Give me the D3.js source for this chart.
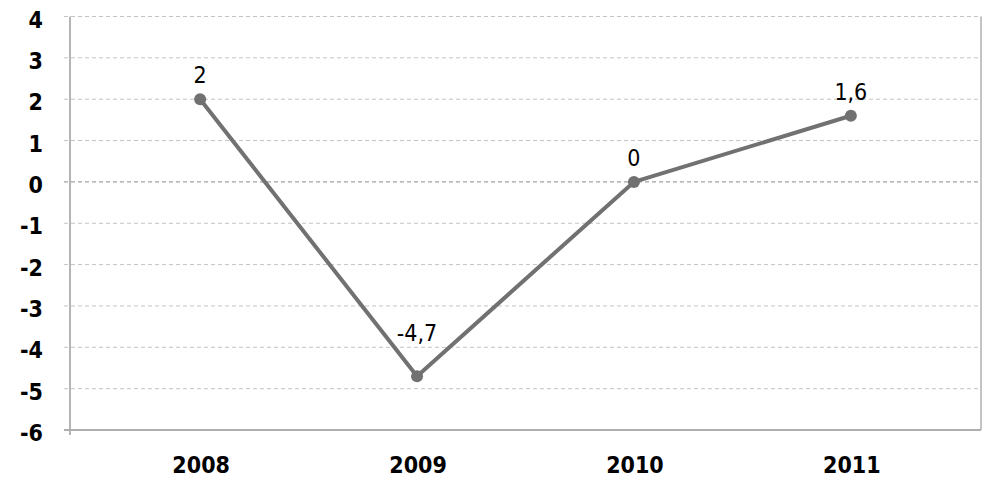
<!DOCTYPE html>
<html>
<head>
<meta charset="utf-8">
<script src="https://cdn.jsdelivr.net/npm/d3@7"></script>
<style>
  body { margin: 0; background: #fff; }
  text { font-family: "DejaVu Sans Condensed", "DejaVu Sans", sans-serif; }
</style>
</head>
<body>
<svg id="chart"></svg>
<script>
// data
const years = ["2008", "2009", "2010", "2011"];
const values = [2, -4.7, 0, 1.6];
const yTicks = [4, 3, 2, 1, 0, -1, -2, -3, -4, -5, -6];

const width = 998;
const height = 502;
const margin = { top: 16.5, right: 17, bottom: 72, left: 70 };

const svg = d3.select("#chart").attr("width", width).attr("height", height);

const x = d3
  .scalePoint()
  .domain(years)
  .range([margin.left, width - margin.right])
  .padding(0.6);

const y = d3
  .scaleLinear()
  .domain([-6, 4])
  .range([height - margin.bottom, margin.top]);

// gridlines
svg.append("g")
  .selectAll("line")
  .data(yTicks.filter((d) => d !== -6))
  .join("line")
  .attr("x1", margin.left - 6)
  .attr("x2", width - margin.right)
  .attr("y1", (d) => y(d))
  .attr("y2", (d) => y(d))
  .attr("stroke", (d) => (d === 0 ? "#8a8a8a" : "#c4c4c4"))
  .attr("stroke-width", 1)
  .attr("stroke-dasharray", "4,3");

// right border
svg.append("line")
  .attr("x1", width - margin.right)
  .attr("x2", width - margin.right)
  .attr("y1", y(4))
  .attr("y2", y(-6))
  .attr("stroke", "#b0b0b0")
  .attr("stroke-width", 1.5);

// y axis line
svg.append("line")
  .attr("x1", margin.left)
  .attr("x2", margin.left)
  .attr("y1", y(4))
  .attr("y2", y(-6) + 5)
  .attr("stroke", "#b4b4b4")
  .attr("stroke-width", 2);

// x axis line
svg.append("line")
  .attr("x1", margin.left - 6)
  .attr("x2", width - margin.right)
  .attr("y1", y(-6))
  .attr("y2", y(-6))
  .attr("stroke", "#aeaeae")
  .attr("stroke-width", 2);

// y tick labels
svg.append("g")
  .selectAll("text")
  .data(yTicks)
  .join("text")
  .attr("x", 43)
  .attr("y", (d) => y(d) + 11)
  .attr("text-anchor", "end")
  .style("font-size", "23px")
  .style("font-weight", "bold")
  .style("fill", "#000")
  .text((d) => d);

// x tick labels
svg.append("g")
  .selectAll("text")
  .data(years)
  .join("text")
  .attr("x", (d) => x(d) + 1)
  .attr("y", y(-6) + 43)
  .attr("text-anchor", "middle")
  .style("font-size", "23px")
  .style("font-weight", "bold")
  .style("fill", "#000")
  .text((d) => d);

const points = years.map((yr, i) => ({ year: yr, value: values[i] }));

// line
const line = d3
  .line()
  .x((d) => x(d.year))
  .y((d) => y(d.value));

svg.append("path")
  .datum(points)
  .attr("d", line)
  .attr("fill", "none")
  .attr("stroke", "#717171")
  .attr("stroke-width", 4)
  .attr("stroke-linejoin", "round");

svg.append("g")
  .selectAll("circle")
  .data(points)
  .join("circle")
  .attr("cx", (d) => x(d.year))
  .attr("cy", (d) => y(d.value))
  .attr("r", 6)
  .attr("fill", "#717171");

// data labels, pushed higher where the point is a dip
const minVal = d3.min(values);
svg.append("g")
  .selectAll("text")
  .data(points)
  .join("text")
  .attr("x", (d) => x(d.year))
  .attr("y", (d) => y(d.value) - (d.value === minVal ? 35 : 16))
  .attr("text-anchor", "middle")
  .style("font-size", "23px")
  .style("fill", "#000")
  .text((d) => String(d.value).replace(".", ","));
</script>
</body>
</html>
